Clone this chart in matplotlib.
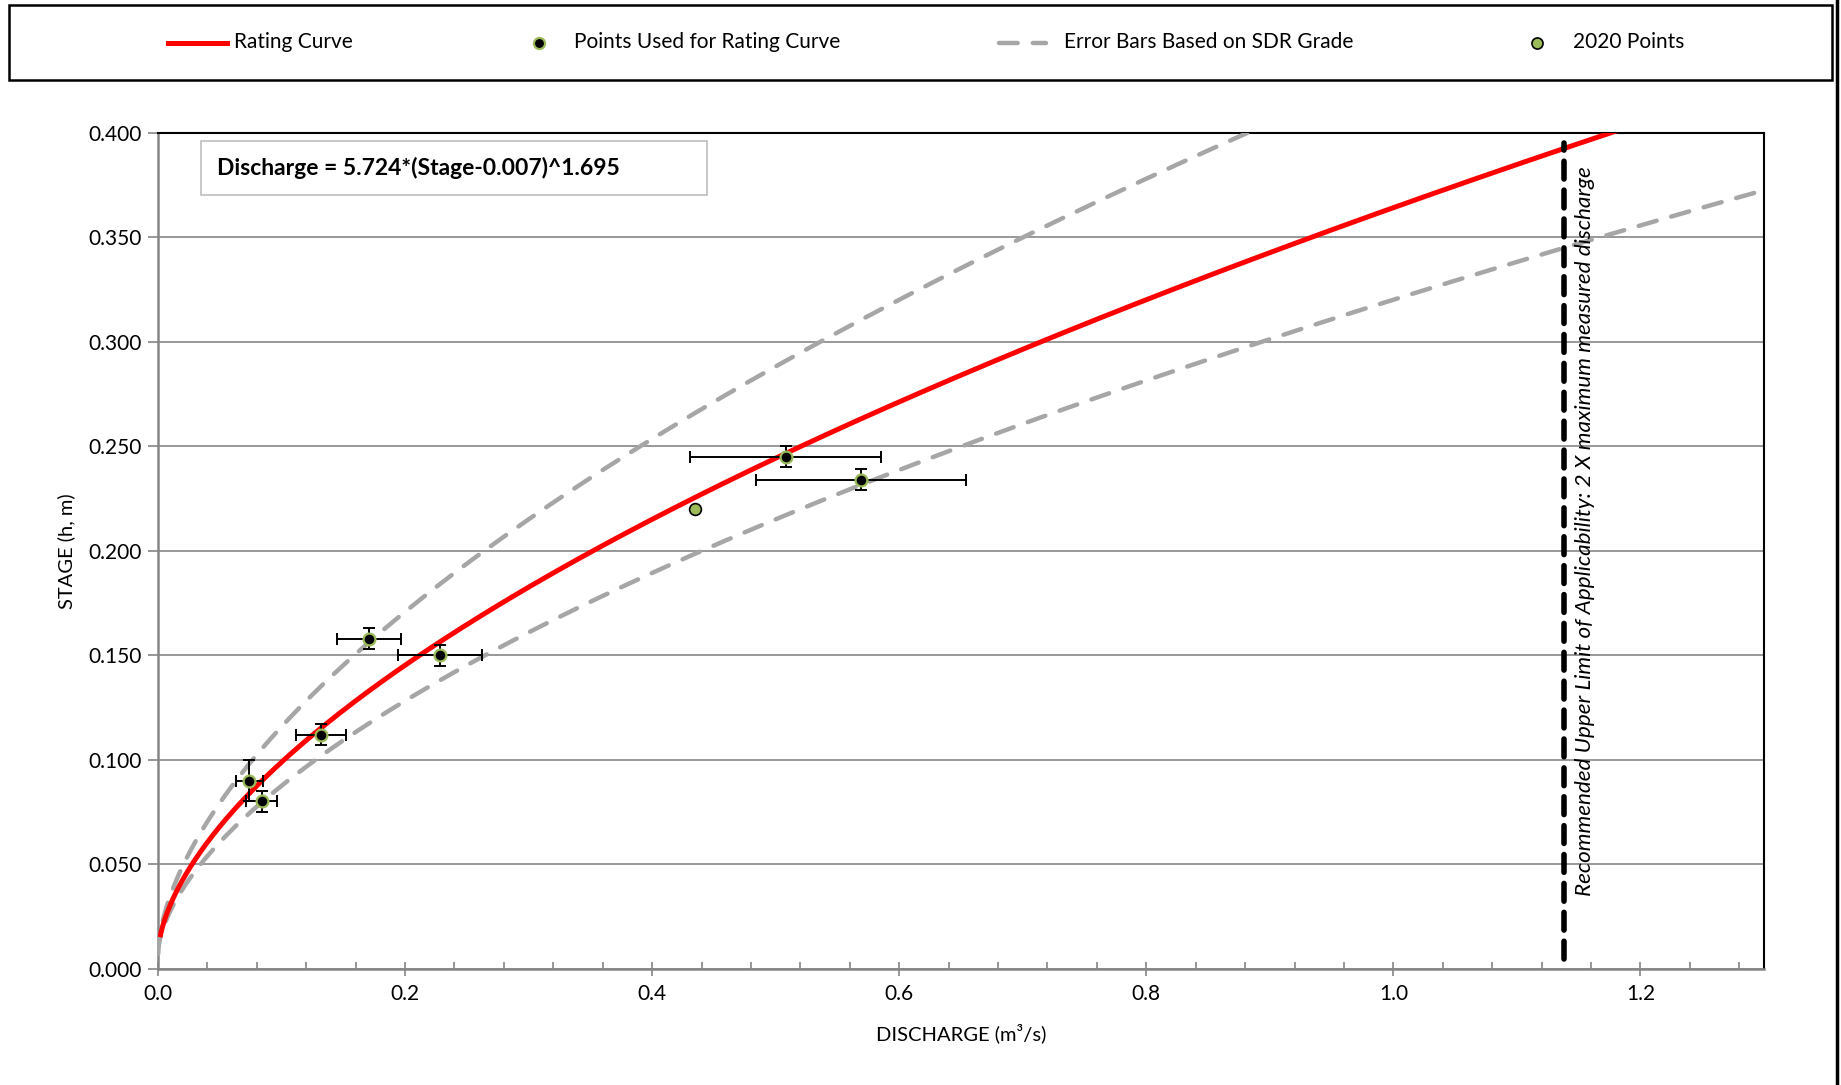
import numpy as np
import matplotlib
matplotlib.use("Agg")
import matplotlib.pyplot as plt
from matplotlib.lines import Line2D
from matplotlib.patches import Rectangle
from matplotlib.ticker import MultipleLocator, FormatStrFormatter

plt.rcParams['font.family'] = ['Lato', 'DejaVu Sans']

# Rating equation: Q = a * (h - h0) ^ b
COEF_A = 5.724
STAGE_OFFSET = 0.007
EXPONENT = 1.695
SDR_FRACTION = 0.25  # +/- band on discharge from the SDR grade

# Measurements used for the rating curve
used_q = [0.074, 0.084, 0.132, 0.171, 0.228, 0.508, 0.569]
used_h = [0.090, 0.080, 0.112, 0.158, 0.150, 0.245, 0.234]
used_q_err = [0.011, 0.0125, 0.020, 0.026, 0.034, 0.077, 0.085]
used_h_err = [0.010, 0.005, 0.005, 0.005, 0.005, 0.005, 0.005]

# 2020 measurement
pts2020_q = [0.435]
pts2020_h = [0.220]

limit_q = 2 * max(used_q)

GREEN = '#9BBB59'
GRAY = '#A6A6A6'
AXGRAY = '#868686'
FS = 15

fig = plt.figure(figsize=(18.41, 10.85), dpi=100)
ax = fig.add_axes([158 / 1841, 1 - 968.6 / 1085, (1764 - 158) / 1841, (968.6 - 133) / 1085])

# Curves
stage = np.linspace(0.015, 0.42, 400)
q_curve = COEF_A * (stage - STAGE_OFFSET) ** EXPONENT
stage_b = np.linspace(STAGE_OFFSET, 0.42, 400)
q_b = COEF_A * (stage_b - STAGE_OFFSET) ** EXPONENT

ax.plot(q_b * (1 - SDR_FRACTION), stage_b, color=GRAY, lw=3.2,
        dashes=(4.2, 3.4), dash_capstyle='round', zorder=3)
ax.plot(q_b * (1 + SDR_FRACTION), stage_b, color=GRAY, lw=3.2,
        dashes=(4.2, 3.4), dash_capstyle='round', zorder=3)
ax.plot(q_curve, stage, color='#FF0000', lw=3.6, zorder=4, solid_capstyle='butt')

# Measurements
ax.errorbar(used_q, used_h, xerr=used_q_err, yerr=used_h_err, fmt='none',
            ecolor='black', elinewidth=1.4, capsize=4, capthick=1.4, zorder=5)
ax.plot(used_q, used_h, linestyle='none', marker='o', markersize=8.5,
        markerfacecolor='black', markeredgecolor=GREEN, markeredgewidth=1.6, zorder=6)
ax.plot(pts2020_q, pts2020_h, linestyle='none', marker='o', markersize=8.5,
        markerfacecolor=GREEN, markeredgecolor='black', markeredgewidth=1.2, zorder=6)

# Upper limit of applicability
ax.axvline(limit_q, ymin=0.012, ymax=0.988, color='black', lw=4.0,
           dashes=(3.2, 2.0), dash_capstyle='round', zorder=5)
ax.text(limit_q + 0.017, 0.2094,
        'Recommended Upper Limit of Applicability: 2 X maximum measured discharge',
        rotation=90, ha='center', va='center', fontsize=16.2, style='italic', zorder=7)

# Equation box
ax.add_patch(Rectangle((0.0268, 0.9254), 0.315, 0.065, transform=ax.transAxes,
                       facecolor='white', edgecolor='#BFBFBF', lw=1.2, zorder=8))
ax.text(0.0367, 0.958, 'Discharge = 5.724*(Stage-0.007)^1.695', transform=ax.transAxes,
        ha='left', va='center', fontsize=16.5, fontweight='bold', zorder=9)

# Axes styling
ax.set_xlim(0, 1.3)
ax.set_ylim(0, 0.4)
ax.xaxis.set_major_locator(MultipleLocator(0.2))
ax.xaxis.set_minor_locator(MultipleLocator(0.04))
ax.yaxis.set_major_locator(MultipleLocator(0.05))
ax.xaxis.set_major_formatter(FormatStrFormatter('%.1f'))
ax.yaxis.set_major_formatter(FormatStrFormatter('%.3f'))
ax.grid(axis='y', color=AXGRAY, lw=1.2, zorder=1)
ax.set_axisbelow(True)
for s in ('left', 'bottom'):
    ax.spines[s].set_color(AXGRAY)
    ax.spines[s].set_linewidth(1.8)
for s in ('top', 'right'):
    ax.spines[s].set_color('black')
    ax.spines[s].set_linewidth(1.5)
ax.tick_params(axis='x', which='major', direction='inout', length=10, width=1.2,
               color=AXGRAY, labelsize=FS, pad=6)
ax.tick_params(axis='x', which='minor', direction='in', length=5, width=1.2, color=AXGRAY)
ax.tick_params(axis='y', which='major', direction='out', length=7, width=1.2,
               color=AXGRAY, labelsize=FS, pad=5)
ax.set_xlabel('DISCHARGE (m\u00b3/s)', fontsize=14.5, labelpad=14)
ax.set_ylabel('STAGE (h, m)', fontsize=14.5, labelpad=9)

# Legend strip across the top
fig.add_artist(Rectangle((9 / 1841, 1 - 80 / 1085), 1823 / 1841, 75 / 1085,
                         transform=fig.transFigure, facecolor='white',
                         edgecolor='black', lw=1.8))
ly = 1 - 42.5 / 1085
fig.add_artist(Line2D([168 / 1841, 227 / 1841], [ly, ly], transform=fig.transFigure,
                      color='#FF0000', lw=3.6))
fig.text(234 / 1841, ly, 'Rating Curve', ha='left', va='center', fontsize=FS)
fig.add_artist(Line2D([539 / 1841], [ly], transform=fig.transFigure, linestyle='none',
                      marker='o', markersize=8, markerfacecolor='black',
                      markeredgecolor=GREEN, markeredgewidth=1.6))
fig.text(574 / 1841, ly, 'Points Used for Rating Curve', ha='left', va='center', fontsize=FS)
fig.add_artist(Line2D([999 / 1841, 1046 / 1841], [ly, ly], transform=fig.transFigure,
                      color=GRAY, lw=3.2, dashes=(4.2, 3.4), dash_capstyle='round'))
fig.text(1064 / 1841, ly, 'Error Bars Based on SDR Grade', ha='left', va='center', fontsize=FS)
fig.add_artist(Line2D([1537 / 1841], [ly], transform=fig.transFigure, linestyle='none',
                      marker='o', markersize=8, markerfacecolor=GREEN,
                      markeredgecolor='black', markeredgewidth=1.2))
fig.text(1573 / 1841, ly, '2020 Points', ha='left', va='center', fontsize=FS)

# Right frame edge
fig.add_artist(Line2D([1837 / 1841, 1837 / 1841], [0, 1], transform=fig.transFigure,
                      color='black', lw=2.5))

fig.savefig('out.png', dpi=100)
